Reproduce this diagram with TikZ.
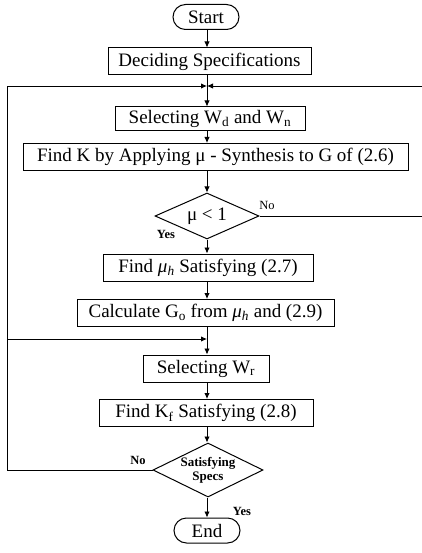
\documentclass[tikz,border=0pt]{standalone}
\usepackage{fontspec}
\setmainfont{Liberation Serif}
\usetikzlibrary{shapes.geometric,shapes.misc,arrows.meta}

\begin{document}
\begin{tikzpicture}[x=1pt, y=-1pt,
    caja/.style={draw, line width=1pt, minimum height=27pt, inner sep=2pt, font=\fontsize{19}{21}\selectfont},
    terminal/.style={draw, rounded rectangle, line width=1pt, minimum width=68pt, minimum height=25pt, inner sep=1pt, font=\fontsize{19}{21}\selectfont},
    decision/.style={draw, diamond, line width=1pt, inner sep=0pt, shape aspect=2},
    flecha/.style={line width=0.9pt, -{Latex[length=6pt,width=5.5pt]}},
    linea/.style={line width=0.9pt},
    etiqueta/.style={font=\fontsize{12.5}{13}\selectfont}]
  \useasboundingbox (0,0) rectangle (422,553);
  % cajas del diagrama
  \node[terminal] (inicio) at (206,17) {Start};
  \node[caja, minimum width=203pt] (decidir) at (209.5,61.5) {Deciding Specifications};
  \coordinate (union) at (207,86);
  \node[caja, minimum width=190pt, minimum height=24pt] (selwd) at (210,119) {Selecting W\textsubscript{d} and W\textsubscript{n}};
  \node[caja, minimum width=385pt] (findk) at (215.5,157) {Find K by Applying μ - Synthesis to G of (2.6)};
  \node[decision, minimum width=104pt, minimum height=46pt, font=\fontsize{19}{21}\selectfont] (mu) at (207,216) {μ < 1};
  \node[caja, minimum width=210pt] (findmu) at (208,267.5) {Find {\itshape μ}\textsubscript{\itshape h} Satisfying (2.7)};
  \node[caja, minimum width=257pt] (calc) at (205.5,313) {Calculate G\textsubscript{o} from {\itshape μ}\textsubscript{\itshape h} and (2.9)};
  \coordinate (union2) at (207,339);
  \node[caja, minimum width=126pt] (selwr) at (206,368.5) {Selecting W\textsubscript{r}};
  \node[caja, minimum width=214pt] (findkf) at (206,413) {Find K\textsubscript{f} Satisfying (2.8)};
  \node[decision, minimum width=110pt, minimum height=54pt, align=center, font=\fontsize{13}{14}\selectfont\bfseries] (specs) at (208,470) {Satisfying\\Specs};
  \node[terminal] (fin) at (207,530.5) {End};
  % lazos de retorno
  \coordinate (izq) at (7,86);
  \coordinate (izq2) at (7,339);
  \coordinate (der) at (425,86);
  % conectores
  \draw[flecha] (inicio.south -| union) -- (decidir.north -| union);
  \draw[linea] (decidir.south -| union) -- (union);
  \draw[flecha] (union) -- (selwd.north -| union);
  \draw[flecha] (selwd.south -| union) -- (findk.north -| union);
  \draw[flecha] (findk.south -| union) -- (mu.north);
  \draw[flecha] (mu.south) -- (findmu.north -| union);
  \draw[flecha] (findmu.south -| union) -- (calc.north -| union);
  \draw[linea] (calc.south -| union) -- (union2);
  \draw[flecha] (union2) -- (selwr.north -| union);
  \draw[flecha] (selwr.south -| union) -- (findkf.north -| union);
  \draw[flecha] (findkf.south -| union) -- (specs.north -| union);
  \draw[flecha] (specs.south -| union) -- (fin.north -| union);
  \draw[flecha] (specs.west) -| (izq) -- (union);
  \draw[flecha] (izq2) -- (union2);
  \draw[flecha] (mu.east) -| (der) -- (union);
  % etiquetas
  \node[etiqueta] (nomu) at (267,205) {No};
  \node[etiqueta] (simu) at (166,234) {\bfseries Yes};
  \node[etiqueta] (nospecs) at (138,460) {\bfseries No};
  \node[etiqueta] (sispecs) at (242,511) {\bfseries Yes};
\end{tikzpicture}
\end{document}
